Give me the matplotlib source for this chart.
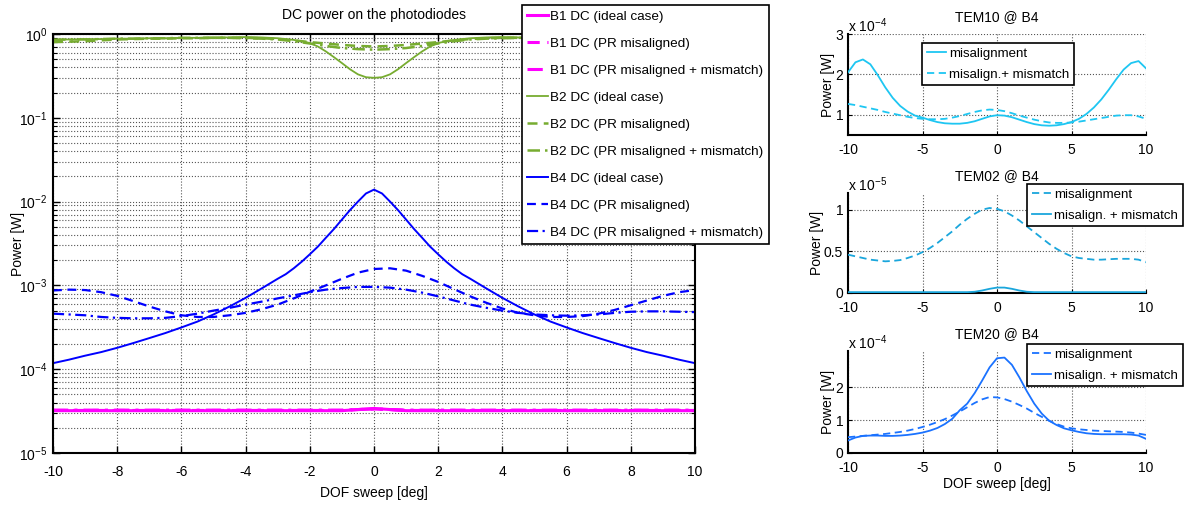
import numpy as np
import matplotlib
matplotlib.use("Agg")
import matplotlib.pyplot as plt
from matplotlib.ticker import FixedLocator, FuncFormatter, LogLocator, NullFormatter

# ---------------- data ----------------
dof = np.linspace(-10, 10, 41)
dof_center = [-10, -9.5, -9, -8.5, -8, -7.5, -7, -6.5, -6, -5.5, -5, -4.5, -4, -3.5, -3,
              -2.75, -2.5, -2.25, -2, -1.75, -1.5, -1.25, -1, -0.75, -0.5, -0.25, 0,
              0.25, 0.5, 0.75, 1, 1.25, 1.5, 1.75, 2, 2.25, 2.5, 2.75,
              3, 3.5, 4, 4.5, 5, 5.5, 6, 6.5, 7, 7.5, 8, 8.5, 9, 9.5, 10]

b1_ideal = [3.2e-5]*19 + [3.3e-5, 3.4e-5, 3.3e-5] + [3.2e-5]*19
b1_mis = [3.22e-5]*19 + [3.3e-5, 3.35e-5, 3.3e-5] + [3.22e-5]*19
b1_mism = [3.25e-5]*19 + [3.3e-5, 3.35e-5, 3.3e-5] + [3.25e-5]*19

b2_ideal = [0.86, 0.86, 0.87, 0.87, 0.88, 0.88, 0.89, 0.89, 0.90, 0.90, 0.91, 0.91, 0.92, 0.91, 0.89,
            0.87, 0.85, 0.82, 0.78, 0.71, 0.62, 0.53, 0.45, 0.38, 0.33, 0.305, 0.30,
            0.305, 0.33, 0.38, 0.45, 0.53, 0.62, 0.71, 0.78, 0.82, 0.85, 0.87,
            0.89, 0.91, 0.92, 0.91, 0.91, 0.90, 0.90, 0.89, 0.89, 0.88, 0.88, 0.87, 0.87, 0.86, 0.86]
b2_mis = [0.80, 0.81, 0.82, 0.84, 0.86, 0.87, 0.88, 0.88, 0.89, 0.89, 0.90, 0.90, 0.90, 0.89, 0.87,
          0.84, 0.80, 0.77, 0.74, 0.72, 0.71, 0.72, 0.74, 0.77, 0.80, 0.84, 0.87, 0.89, 0.90, 0.90,
          0.90, 0.89, 0.89, 0.88, 0.88, 0.87, 0.86, 0.85, 0.84, 0.83, 0.83]
b2_mism = [0.85, 0.86, 0.86, 0.87, 0.88, 0.88, 0.89, 0.89, 0.90, 0.90, 0.90, 0.90, 0.89, 0.88, 0.86,
           0.82, 0.77, 0.72, 0.68, 0.66, 0.65, 0.66, 0.68, 0.72, 0.77, 0.82, 0.86, 0.88, 0.89, 0.90,
           0.90, 0.90, 0.90, 0.89, 0.89, 0.88, 0.88, 0.87, 0.86, 0.86, 0.85]

b4_ideal = [1.18e-4, 1.3e-4, 1.45e-4, 1.6e-4, 1.8e-4, 2.05e-4, 2.35e-4, 2.7e-4, 3.15e-4, 3.7e-4,
            4.5e-4, 5.6e-4, 7.1e-4, 9.2e-4, 1.2e-3,
            1.36e-3, 1.6e-3, 1.92e-3, 2.35e-3, 2.9e-3, 3.7e-3, 4.7e-3, 6.1e-3, 7.9e-3, 1.0e-2, 1.25e-2,
            1.39e-2,
            1.25e-2, 1.0e-2, 7.9e-3, 6.1e-3, 4.7e-3, 3.7e-3, 2.9e-3, 2.35e-3, 1.92e-3, 1.6e-3, 1.36e-3,
            1.2e-3, 9.2e-4, 7.1e-4, 5.6e-4, 4.5e-4,
            3.7e-4, 3.15e-4, 2.7e-4, 2.35e-4, 2.05e-4, 1.8e-4, 1.6e-4, 1.45e-4, 1.3e-4, 1.18e-4]
b4_mis = [8.7e-4, 8.9e-4, 8.8e-4, 8.3e-4, 7.5e-4, 6.5e-4, 5.6e-4, 4.9e-4, 4.4e-4, 4.2e-4,
          4.2e-4, 4.4e-4, 4.7e-4, 5.2e-4, 5.9e-4, 7.0e-4, 8.4e-4, 1.0e-3, 1.2e-3, 1.42e-3,
          1.57e-3, 1.6e-3, 1.5e-3, 1.3e-3, 1.1e-3, 9.0e-4, 7.4e-4, 6.2e-4, 5.3e-4, 4.7e-4,
          4.4e-4, 4.2e-4, 4.2e-4, 4.3e-4, 4.6e-4, 5.1e-4, 5.8e-4, 6.6e-4, 7.5e-4, 8.3e-4, 8.8e-4]
b4_mism = [4.6e-4, 4.5e-4, 4.4e-4, 4.2e-4, 4.1e-4, 4.05e-4, 4.05e-4, 4.1e-4, 4.3e-4, 4.6e-4,
           5.0e-4, 5.4e-4, 5.9e-4, 6.4e-4, 7.0e-4, 7.6e-4, 8.3e-4, 8.9e-4, 9.3e-4, 9.6e-4,
           9.6e-4, 9.4e-4, 8.9e-4, 8.2e-4, 7.4e-4, 6.6e-4, 5.9e-4, 5.4e-4, 5.0e-4, 4.7e-4,
           4.5e-4, 4.4e-4, 4.35e-4, 4.4e-4, 4.5e-4, 4.7e-4, 4.85e-4, 4.9e-4, 4.9e-4, 4.85e-4, 4.8e-4]

tem10_mis = [2.05, 2.30, 2.37, 2.25, 1.98, 1.68, 1.42, 1.22, 1.08, 0.98, 0.93, 0.87, 0.82, 0.79,
             0.78, 0.78, 0.80, 0.84, 0.90, 0.96, 0.99, 0.98, 0.94, 0.88, 0.82, 0.77, 0.74, 0.73,
             0.74, 0.77, 0.82, 0.90, 1.02, 1.18, 1.38, 1.62, 1.88, 2.12, 2.28, 2.33, 2.15]
tem10_mism = [1.27, 1.24, 1.20, 1.16, 1.12, 1.07, 1.03, 0.99, 0.95, 0.92, 0.90, 0.89, 0.89, 0.90,
              0.93, 0.97, 1.02, 1.07, 1.11, 1.13, 1.12, 1.09, 1.04, 0.98, 0.93, 0.88, 0.84, 0.81,
              0.80, 0.80, 0.81, 0.83, 0.86, 0.89, 0.92, 0.95, 0.98, 0.99, 0.99, 0.96, 0.90]
tem02_mis = [0.46, 0.44, 0.42, 0.40, 0.39, 0.38, 0.385, 0.395, 0.42, 0.45, 0.49, 0.54, 0.60, 0.67,
             0.74, 0.82, 0.89, 0.95, 1.00, 1.02, 1.01, 0.98, 0.93, 0.87, 0.80, 0.73, 0.66, 0.59,
             0.53, 0.48, 0.44, 0.42, 0.41, 0.40, 0.40, 0.405, 0.41, 0.41, 0.41, 0.40, 0.37]
tem02_mism = [0.01]*17 + [0.015, 0.03, 0.05, 0.065, 0.065, 0.05, 0.03, 0.015] + [0.01]*16
tem20_mis = [0.48, 0.50, 0.52, 0.54, 0.56, 0.58, 0.61, 0.64, 0.68, 0.73, 0.79, 0.86, 0.94, 1.03,
             1.14, 1.26, 1.39, 1.52, 1.63, 1.70, 1.69, 1.64, 1.56, 1.46, 1.35, 1.22, 1.10, 0.98,
             0.88, 0.80, 0.75, 0.72, 0.70, 0.68, 0.67, 0.66, 0.65, 0.64, 0.62, 0.59, 0.55]
tem20_mism = [0.38, 0.47, 0.52, 0.53, 0.53, 0.52, 0.52, 0.53, 0.55, 0.58, 0.62, 0.68, 0.76, 0.88,
              1.04, 1.30, 1.50, 1.82, 2.20, 2.60, 2.88, 2.90, 2.68, 2.30, 1.88, 1.50, 1.20, 0.98,
              0.85, 0.75, 0.69, 0.64, 0.60, 0.58, 0.57, 0.57, 0.57, 0.57, 0.56, 0.53, 0.43]

main_x_ticks = [-10, -8, -6, -4, -2, 0, 2, 4, 6, 8, 10]
side_x_ticks = [-10, -5, 0, 5, 10]

# ---------------- style ----------------
FONT, FS = 'Liberation Sans', 10
plt.rcParams['font.family'] = [FONT, 'DejaVu Sans']
plt.rcParams['font.size'] = FS
plt.rcParams['mathtext.fontset'] = 'custom'
plt.rcParams['mathtext.rm'] = FONT
plt.rcParams['mathtext.default'] = 'regular'
plt.rcParams['axes.unicode_minus'] = False

MAG = '#ff00ff'
GRN = '#77ac30'
BLU = '#0000ff'
C10 = '#1ec6f2'
C02 = '#1aa6dc'
C20 = '#1a72ff'
GRID = dict(color='#555555', linestyle=':', linewidth=0.8)

W, H = 1192, 509
fig = plt.figure(figsize=(W/100, H/100), dpi=100)

def rect(l, r, t, b):
    return [l/W, 1 - b/H, (r - l)/W, (b - t)/H]

# ---------------- main axes ----------------
ax = fig.add_axes(rect(53, 695, 34, 453))
ls_dash = (0, (4, 2.5))
ls_dd = (0, (5, 2, 1, 2))
lines = []
lines += ax.plot(dof, b1_ideal, color=MAG, lw=2.2, ls='-', label='B1 DC (ideal case)')
lines += ax.plot(dof, b1_mis, color=MAG, lw=2.2, ls=ls_dash, label='B1 DC (PR misaligned)')
lines += ax.plot(dof, b1_mism, color=MAG, lw=2.2, ls=ls_dd, label='B1 DC (PR misaligned + mismatch)')
lines += ax.plot(dof_center, b2_ideal, color=GRN, lw=1.3, ls='-', label='B2 DC (ideal case)')
lines += ax.plot(dof, b2_mis, color=GRN, lw=1.8, ls=ls_dash, label='B2 DC (PR misaligned)')
lines += ax.plot(dof, b2_mism, color=GRN, lw=1.8, ls=ls_dd, label='B2 DC (PR misaligned + mismatch)')
lines += ax.plot(dof_center, b4_ideal, color=BLU, lw=1.4, ls='-', label='B4 DC (ideal case)')
lines += ax.plot(dof, b4_mis, color=BLU, lw=1.6, ls=ls_dash, label='B4 DC (PR misaligned)')
lines += ax.plot(dof, b4_mism, color=BLU, lw=1.6, ls=ls_dd, label='B4 DC (PR misaligned + mismatch)')
ax.set_yscale('log')
ax.set_xlim(-10, 10)
ax.set_ylim(1e-5, 1)
ax.set_xticks(main_x_ticks)
ax.yaxis.set_minor_locator(LogLocator(base=10, subs=np.arange(2, 10)))
ax.yaxis.set_minor_formatter(NullFormatter())
ax.grid(True, which='major', **GRID)
ax.grid(True, which='minor', axis='y', **GRID)
ax.tick_params(which='both', direction='in', top=True, right=True)
ax.tick_params(which='major', length=5, width=1)
ax.tick_params(which='minor', length=3, width=0.8)
ax.tick_params(axis='x', pad=8.5)
ax.tick_params(axis='y', pad=4)
for s in ax.spines.values():
    s.set_linewidth(1.5)
ax.set_title('DC power on the photodiodes', fontsize=FS, pad=11)
ax.set_xlabel('DOF sweep [deg]', labelpad=5)
ax.set_ylabel('Power [W]')
ax.yaxis.set_label_coords(-0.044, 0.5)

leg = fig.legend(handles=lines, loc='upper left', bbox_to_anchor=(522/W, 1 - 5/H),
                 frameon=True, fancybox=False, framealpha=1, edgecolor='black',
                 fontsize=9.7, handlelength=1.5, handletextpad=0.2, labelspacing=1.08,
                 borderpad=0.4, borderaxespad=0)
leg.get_frame().set_linewidth(1.2)

# ---------------- side axes ----------------
def side(r, scale, exp, ylim, yticks, series, title, leg_anchor, xlabel=False):
    a = fig.add_axes(r)
    hs = []
    for vals, col, ls, lab in series:
        hs += a.plot(dof, np.array(vals) * scale, color=col, ls=ls, lw=1.3, label=lab, zorder=3)
    a.set_xlim(-10, 10)
    a.set_ylim(ylim[0] * scale, ylim[1] * scale)
    a.set_xticks(side_x_ticks)
    a.yaxis.set_major_locator(FixedLocator([t * scale for t in yticks]))
    a.yaxis.set_major_formatter(FuncFormatter(lambda v, p, s=scale: ('%g' % round(v / s, 6))))
    a.grid(True, **GRID)
    a.spines['top'].set_visible(False)
    a.spines['right'].set_visible(False)
    a.spines['left'].set_linewidth(1.5)
    a.spines['bottom'].set_linewidth(1.5)
    a.tick_params(direction='in', length=3)
    a.tick_params(axis='x', pad=6)
    a.set_title(title, fontsize=FS, pad=9)
    a.set_ylabel('Power [W]', labelpad=0)
    a.text(0, 0.995, 'x 10$^{%d}$' % exp, transform=a.transAxes, ha='left', va='bottom', fontsize=FS)
    if xlabel:
        a.set_xlabel('DOF sweep [deg]', labelpad=1)
    lg = fig.legend(handles=hs, loc='upper left', bbox_to_anchor=leg_anchor,
                    frameon=True, fancybox=False, framealpha=1, edgecolor='black',
                    fontsize=9.5, handlelength=1.5, handletextpad=0.2, labelspacing=0.65,
                    borderpad=0.35, borderaxespad=0)
    lg.get_frame().set_linewidth(1.2)
    return a

side(rect(848, 1146, 34, 135), 1e-4, -4, (0.5, 3.0), [1, 2, 3],
     [(tem10_mis, C10, '-', 'misalignment'), (tem10_mism, C10, ls_dash, 'misalign.+ mismatch')],
     'TEM10 @ B4', (922/W, 1 - 43/H))
side(rect(848, 1146, 193, 293), 1e-5, -5, (0.0, 1.2), [0, 0.5, 1],
     [(tem02_mis, C02, ls_dash, 'misalignment'), (tem02_mism, C02, '-', 'misalign. + mismatch')],
     'TEM02 @ B4', (1027/W, 1 - 184/H))
side(rect(848, 1146, 351, 453), 1e-4, -4, (0.0, 3.1), [0, 1, 2],
     [(tem20_mis, C20, ls_dash, 'misalignment'), (tem20_mism, C20, '-', 'misalign. + mismatch')],
     'TEM20 @ B4', (1027/W, 1 - 344/H), xlabel=True)

fig.savefig('out.png', dpi=100)
